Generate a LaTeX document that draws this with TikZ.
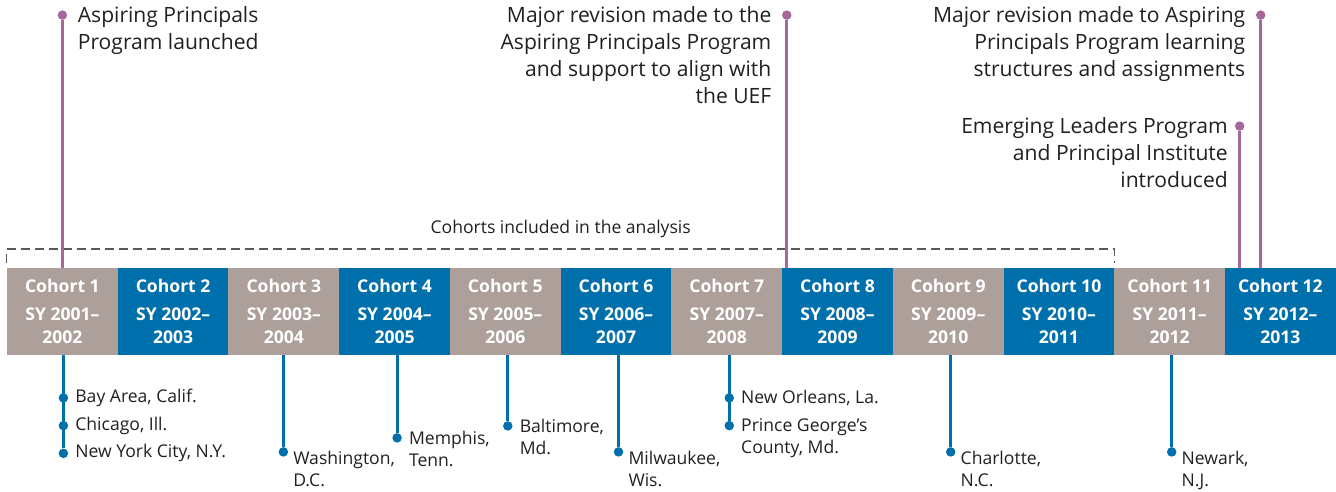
\documentclass[tikz,border=0pt]{standalone}
\usepackage{fontspec}
\setmainfont{Open Sans}
\usepackage{tikz}
\usepackage{xcolor}
\usetikzlibrary{positioning}
\definecolor{cohortgray}{HTML}{ADA09B}
\definecolor{cohortblue}{HTML}{0070AD}
\definecolor{eventpurple}{HTML}{A6689A}
\definecolor{textgray}{HTML}{231F20}
\tikzstyle{oddbox} = [
    rectangle, minimum width=2.215cm, minimum height=1.74cm, inner sep=0pt,
    text centered, align=center, text=white, fill=cohortgray,
    font=\bfseries\fontsize{10}{13}\selectfont
]
\tikzstyle{evenbox} = [oddbox, fill=cohortblue]
\tikzstyle{topdot} = [circle, fill=eventpurple, inner sep=0pt, minimum size=0.19cm]
\tikzstyle{citydot} = [topdot, fill=cohortblue]
\tikzstyle{toplabel} = [inner sep=0pt, text=textgray, font=\fontsize{12}{15.35}\selectfont]
\tikzstyle{citylabel} = [inner sep=0pt, text=textgray, align=left, font=\fontsize{10}{12.3}\selectfont]
\tikzstyle{event} = [line width=1.7pt, eventpurple]
\tikzstyle{city} = [line width=1.7pt, cohortblue]
\tikzstyle{window} = [line width=0.8pt, black!65, dash pattern=on 0.18cm off 0.1cm]
\begin{document}
\begin{tikzpicture}[x=0.02cm, y=-0.02cm, node distance=2.215cm]
            \useasboundingbox (0,0) rectangle (1336,492);

            \node (c1) [oddbox] at (62.4,311.5) {Cohort 1\\[3pt]SY 2001--\\2002};
            \node (c2) [evenbox, right of=c1] {Cohort 2\\[3pt]SY 2002--\\2003};
            \node (c3) [oddbox, right of=c2] {Cohort 3\\[3pt]SY 2003--\\2004};
            \node (c4) [evenbox, right of=c3] {Cohort 4\\[3pt]SY 2004--\\2005};
            \node (c5) [oddbox, right of=c4] {Cohort 5\\[3pt]SY 2005--\\2006};
            \node (c6) [evenbox, right of=c5] {Cohort 6\\[3pt]SY 2006--\\2007};
            \node (c7) [oddbox, right of=c6] {Cohort 7\\[3pt]SY 2007--\\2008};
            \node (c8) [evenbox, right of=c7] {Cohort 8\\[3pt]SY 2008--\\2009};
            \node (c9) [oddbox, right of=c8] {Cohort 9\\[3pt]SY 2009--\\2010};
            \node (c10) [evenbox, right of=c9] {Cohort 10\\[3pt]SY 2010--\\2011};
            \node (c11) [oddbox, right of=c10] {Cohort 11\\[3pt]SY 2011--\\2012};
            \node (c12) [evenbox, right of=c11] {Cohort 12\\[3pt]SY 2012--\\2013};

            \draw [window] ([yshift=0.1cm]c1.north west) -- ([yshift=0.37cm]c1.north west)
                -- node[above=0.1cm, text=textgray, font=\fontsize{10}{12}\selectfont] (analysis)
                   {Cohorts included in the analysis}
                ([yshift=0.37cm]c10.north east) -- ([yshift=0.1cm]c10.north east);

            \node (p1) [topdot, above=4.95cm of c1] {};
            \node (p1txt) [toplabel, right=0.2cm of p1, anchor=north west, yshift=0.17cm,
                           align=left] {Aspiring Principals\\Program launched};
            \node (p8) [topdot, above=4.95cm of c8.north west, xshift=0.1cm] {};
            \node (p8txt) [toplabel, left=0.2cm of p8, anchor=north east, yshift=0.17cm,
                           align=right] {Major revision made to the\\Aspiring Principals Program\\
                           and support to align with\\the UEF};
            \node (p12b) [topdot, above=4.95cm of c12.north west, xshift=0.72cm] {};
            \node (p12btxt) [toplabel, left=0.2cm of p12b, anchor=north east, yshift=0.17cm,
                             align=right] {Major revision made to Aspiring\\
                             Principals Program learning\\structures and assignments};
            \node (p12a) [topdot, above=2.73cm of c12.north west, xshift=0.3cm] {};
            \node (p12atxt) [toplabel, left=0.13cm of p12a, anchor=north east, yshift=0.17cm,
                             align=right] {Emerging Leaders Program\\and Principal Institute\\introduced};

            \draw [event] (p1) -- (p1 |- c1.north);
            \draw [event] (p8) -- (p8 |- c8.north);
            \draw [event] (p12a) -- (p12a |- c12.north);
            \draw [event] (p12b) -- (p12b |- c12.north);

            \node (b1a) [citydot, below=0.75cm of c1, xshift=0.02cm] {};
            \node (b1b) [citydot, below=0.35cm of b1a] {};
            \node (b1c) [citydot, below=0.35cm of b1b] {};
            \node (b1atxt) [citylabel, right=0.13cm of b1a] {Bay Area, Calif.};
            \node (b1btxt) [citylabel, right=0.13cm of b1b] {Chicago, Ill.};
            \node (b1ctxt) [citylabel, right=0.13cm of b1c] {New York City, N.Y.};

            \node (b3) [citydot, below=1.83cm of c3, xshift=-0.01cm] {};
            \node (b3txt) [citylabel, below right=-0.09cm and 0.12cm of b3] {Washington,\\D.C.};
            \node (b4) [citydot, below=1.55cm of c4, xshift=0.05cm] {};
            \node (b4txt) [citylabel, right=0.13cm of b4, anchor=north west, yshift=0.14cm]
                          {Memphis,\\Tenn.};
            \node (b5) [citydot, below=1.31cm of c5, xshift=0.05cm] {};
            \node (b5txt) [citylabel, right=0.13cm of b5, anchor=north west, yshift=0.14cm]
                          {Baltimore,\\Md.};
            \node (b6) [citydot, below=1.83cm of c6, xshift=0.05cm] {};
            \node (b6txt) [citylabel, below right=-0.09cm and 0.12cm of b6] {Milwaukee,\\Wis.};
            \node (b7a) [citydot, below=0.75cm of c7, xshift=0.05cm] {};
            \node (b7b) [citydot, below=0.35cm of b7a] {};
            \node (b7atxt) [citylabel, right=0.13cm of b7a] {New Orleans, La.};
            \node (b7btxt) [citylabel, right=0.13cm of b7b, anchor=north west, yshift=0.14cm]
                           {Prince George's\\County, Md.};
            \node (b9) [citydot, below=1.83cm of c9, xshift=0.05cm] {};
            \node (b9txt) [citylabel, below right=-0.09cm and 0.12cm of b9] {Charlotte,\\N.C.};
            \node (b11) [citydot, below=1.83cm of c11, xshift=0.04cm] {};
            \node (b11txt) [citylabel, below right=-0.09cm and 0.12cm of b11] {Newark,\\N.J.};

            \draw [city] (b1c |- c1.south) -- (b1c);
            \draw [city] (b3 |- c3.south) -- (b3);
            \draw [city] (b4 |- c4.south) -- (b4);
            \draw [city] (b5 |- c5.south) -- (b5);
            \draw [city] (b6 |- c6.south) -- (b6);
            \draw [city] (b7b |- c7.south) -- (b7b);
            \draw [city] (b9 |- c9.south) -- (b9);
            \draw [city] (b11 |- c11.south) -- (b11);
        \end{tikzpicture}
\end{document}
